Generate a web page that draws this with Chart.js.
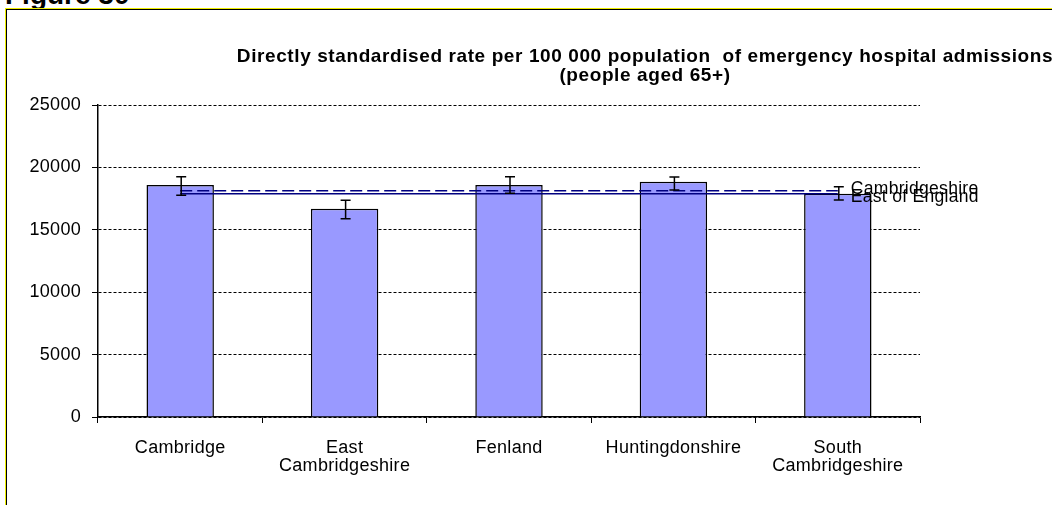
<!DOCTYPE html>
<html>
<head>
<meta charset="utf-8">
<script src="https://cdn.jsdelivr.net/npm/chart.js@4/dist/chart.umd.min.js"></script>
<style>
  html, body { margin: 0; padding: 0; background: #fff; overflow: hidden; }
  #wrap { position: relative; width: 1052px; height: 505px; }
  #figlabel { position: absolute; left: 5px; top: -19px; font: bold 28px "Liberation Sans", Arial, sans-serif; line-height: 28px; color: #000; }
  #frameOuter { position: absolute; left: 5px; top: 8px; width: 1200px; height: 600px; border-left: 1px solid #f0f000; border-top: 1px solid #f0f000; }
  #frameInner { position: absolute; left: 6px; top: 9px; width: 1200px; height: 600px; border-left: 1px solid #000; border-top: 1px solid #000; }
  #c { position: absolute; left: 0; top: 0; }
</style>
</head>
<body>
<div id="wrap">
  <div id="figlabel">Figure 30</div>
  <div id="frameOuter"></div>
  <div id="frameInner"></div>
  <canvas id="c" width="1052" height="505"></canvas>
</div>
<script>
// districts on the x axis
const districts = ["Cambridge", ["East", "Cambridgeshire"], "Fenland", "Huntingdonshire", ["South", "Cambridgeshire"]];
// directly standardised rate per 100 000, aged 65+
const rates = [18590, 16690, 18590, 18860, 17890];
// 95% confidence limits
const lowerCI = [17760, 15890, 17920, 18190, 17390];
const upperCI = [19250, 17360, 19250, 19230, 18450];
// comparator rates
const cambridgeshireRate = 18130;
const eastOfEnglandRate = 17890;
// y axis
const yMin = 0, yMax = 25000, yStep = 5000;

const FONT = "'Liberation Sans', Arial, sans-serif";

// the original text is a bit stretched, so space the letters slightly
const spacing = {
    id: "spacing",
    beforeUpdate(chart) { chart.ctx.letterSpacing = "0.3px"; },
    beforeDraw(chart) { chart.ctx.letterSpacing = "0.3px"; }
};

const errorBars = {
    id: "errorBars",
    afterDatasetsDraw(chart) {
        const meta = chart.getDatasetMeta(0);
        const y = chart.scales.y;
        const ctx = chart.ctx;
        ctx.save();
        ctx.strokeStyle = "#000";
        ctx.lineWidth = 1.5;
        meta.data.forEach((bar, i) => {
            const top = y.getPixelForValue(upperCI[i]);
            const bot = y.getPixelForValue(lowerCI[i]);
            const x = bar.x + 1;
            ctx.beginPath();
            ctx.moveTo(x, top); ctx.lineTo(x, bot);
            ctx.moveTo(x - 5, top); ctx.lineTo(x + 5, top);
            ctx.moveTo(x - 5, bot); ctx.lineTo(x + 5, bot);
            ctx.stroke();
        });
        ctx.restore();
    }
};

const lineLabels = {
    id: "lineLabels",
    afterDraw(chart) {
        const ctx = chart.ctx;
        ctx.save();
        ctx.letterSpacing = "0.3px";
        ctx.font = "17.5px " + FONT;
        ctx.fillStyle = "#000";
        ctx.textAlign = "left";
        ctx.textBaseline = "middle";
        [1, 2].forEach((di, k) => {
            const pts = chart.getDatasetMeta(di).data;
            const last = pts[pts.length - 1];
            ctx.fillText(chart.data.datasets[di].label, last.x + 13, last.y + (k === 0 ? -2 : 3));
        });
        // chart title
        ctx.letterSpacing = "0.6px";
        ctx.font = "bold 19px " + FONT;
        ctx.textAlign = "center";
        ctx.fillText("Directly standardised rate per 100 000 population  of emergency hospital admissions", 645, 57);
        ctx.fillText("(people aged 65+)", 645, 76);
        ctx.restore();
    }
};

new Chart("c", {
    data: {
        labels: districts,
        datasets: [
            {
                type: "bar",
                label: "Rate",
                data: rates,
                backgroundColor: "#9999ff",
                borderColor: "#000",
                borderWidth: 1.5,
                barPercentage: 0.41,
                categoryPercentage: 1,
                order: 2
            },
            {
                type: "line",
                label: "Cambridgeshire",
                data: districts.map(() => cambridgeshireRate),
                borderColor: "#000080",
                borderWidth: 1.5,
                borderDash: [12, 5],
                pointRadius: 0,
                fill: false,
                order: 1
            },
            {
                type: "line",
                label: "East of England",
                data: districts.map(() => eastOfEnglandRate),
                borderColor: "#000080",
                borderWidth: 1.5,
                pointRadius: 0,
                fill: false,
                order: 1
            }
        ]
    },
    options: {
        responsive: false,
        animation: false,
        layout: { padding: { left: 0, top: 105, right: 132, bottom: 0 } },
        plugins: {
            legend: { display: false },
            title: { display: false },
            tooltip: { enabled: false }
        },
        scales: {
            x: {
                offset: true,
                grid: { offset: true, drawOnChartArea: false, tickLength: 6, tickColor: "#000", tickWidth: 1 },
                border: { color: "#000", width: 1.5 },
                ticks: { color: "#000", padding: 16, font: { family: FONT, size: 18, lineHeight: 1.0 }, maxRotation: 0, autoSkip: false },
                afterFit(s) { s.height = 88; }
            },
            y: {
                min: yMin,
                max: yMax,
                grid: { color: "#000", lineWidth: 1, tickLength: 6, tickColor: "#000", tickBorderDash: [] },
                border: { color: "#000", width: 1.5, dash: [3, 2] },
                ticks: { stepSize: yStep, color: "#000", padding: 11, font: { family: FONT, size: 18 }, callback: v => String(v) },
                afterFit(s) { s.width = 98; }
            }
        }
    },
    plugins: [spacing, errorBars, lineLabels]
});
</script>
</body>
</html>
